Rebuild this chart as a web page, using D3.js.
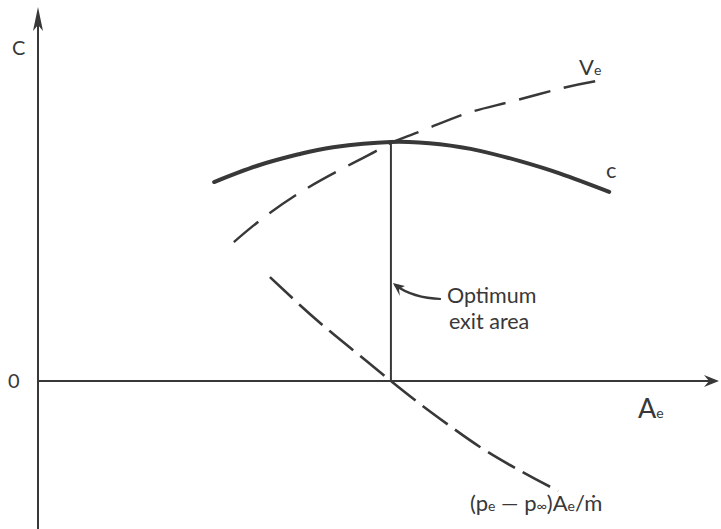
<!DOCTYPE html>
<html>
<head>
<meta charset="utf-8">
<script src="https://cdn.jsdelivr.net/npm/d3@7"></script>
<style>
  html, body { margin: 0; padding: 0; background: #fff; }
  svg { display: block; }
  text { font-family: Lato, "Open Sans", sans-serif; fill: #383838; }
</style>
</head>
<body>
<svg id="chart" width="721" height="529"></svg>
<script>
// Thrust coefficient c, exit velocity Ve and pressure-thrust term vs. exit area Ae
const axisX = [0, 10];          // Ae extent of the horizontal axis
const axisY = [-62, 155];       // extent of the vertical axis
const optimumAe = 5.19;         // exit area where pe = p∞

const cAe    = [2.59, 3.26, 3.85, 4.34, 5.19, 5.91, 6.50, 7.09, 7.68, 8.40];
const cVal   = [82.9, 90.0, 94.6, 97.4, 99.6, 98.6, 95.9, 91.6, 86.4, 78.8];

const veAe   = [2.88, 3.31, 3.84, 4.41, 4.97, 5.19, 5.71, 6.32, 6.94, 7.72, 8.38];
const veVal  = [57.9, 67.9, 78.3, 87.5, 95.8, 99.2, 105.0, 111.7, 116.3, 122.1, 125.8];

const prAe   = [3.41, 3.85, 4.29, 4.74, 5.19, 5.62, 6.06, 6.50, 6.94, 7.31, 7.65];
const prVal  = [43.3, 31.7, 20.8, 10.4, 0, -9.6, -18.8, -27.5, -35.0, -40.8, -45.8];

const ink = "#383838";
const svg = d3.select("#chart");

const x = d3.scaleLinear().domain([0, 10]).range([38, 718]);
const y = d3.scaleLinear().domain([0, 100]).range([381, 141]);

const line = d3.line().x(d => x(d[0])).y(d => y(d[1])).curve(d3.curveNatural);
const zip = (a, b) => a.map((v, i) => [v, b[i]]);

// axes
svg.append("line").attr("x1", x(0)).attr("x2", x(0))
  .attr("y1", y(axisY[0])).attr("y2", y(axisY[1]) + 4)
  .attr("stroke", ink).attr("stroke-width", 2);
svg.append("line").attr("x1", x(axisX[0])).attr("x2", x(axisX[1]) - 4)
  .attr("y1", y(0)).attr("y2", y(0))
  .attr("stroke", ink).attr("stroke-width", 2);

// arrowheads
const ty = y(axisY[1]), tx = x(0);
svg.append("path")
  .attr("d", `M${tx},${ty - 2} L${tx - 5},${ty + 22} L${tx},${ty + 16} L${tx + 5},${ty + 22} Z`)
  .attr("fill", ink);
const rx = x(axisX[1]), ry = y(0);
svg.append("path")
  .attr("d", `M${rx + 1},${ry} L${rx - 14},${ry - 6} L${rx - 9},${ry} L${rx - 14},${ry + 6} Z`)
  .attr("fill", ink);

// optimum exit-area line
svg.append("line")
  .attr("x1", x(optimumAe)).attr("x2", x(optimumAe))
  .attr("y1", y(0)).attr("y2", y(99.6))
  .attr("stroke", ink).attr("stroke-width", 2);

// curves
svg.append("path").attr("d", line(zip(veAe, veVal)))
  .attr("fill", "none").attr("stroke", ink).attr("stroke-width", 2.4)
  .attr("stroke-dasharray", "32,14");
svg.append("path").attr("d", line(zip(prAe, prVal)))
  .attr("fill", "none").attr("stroke", ink).attr("stroke-width", 2.6)
  .attr("stroke-dasharray", "31,9");
svg.append("path").attr("d", line(zip(cAe, cVal)))
  .attr("fill", "none").attr("stroke", ink).attr("stroke-width", 4)
  .attr("stroke-linecap", "round");

// annotation arrow
const ox = x(optimumAe);
svg.append("path")
  .attr("d", `M${ox + 50},${299} Q${ox + 22},${298} ${ox + 4},${285}`)
  .attr("fill", "none").attr("stroke", ink).attr("stroke-width", 2.2);
svg.append("path")
  .attr("d", `M${ox + 2},${283} L${ox + 14},${286} L${ox + 8},${289} L${ox + 9},${296} Z`)
  .attr("fill", ink);

// labels
svg.append("text").attr("x", 12).attr("y", 55).attr("font-size", 20).text("C");
svg.append("text").attr("x", 8).attr("y", y(0) + 7).attr("font-size", 20).text("0");
svg.append("text").attr("x", 606).attr("y", 178).attr("font-size", 22).text("c");

const ve = svg.append("text").attr("x", 579).attr("y", 75).attr("font-size", 22);
ve.append("tspan").text("V");
ve.append("tspan").attr("font-size", 14).text("e");

const ae = svg.append("text").attr("x", 638).attr("y", 418).attr("font-size", 27);
ae.append("tspan").text("A");
ae.append("tspan").attr("font-size", 14).text("e");

svg.append("text").attr("x", ox + 56).attr("y", 303).attr("font-size", 21.5).text("Optimum");
svg.append("text").attr("x", ox + 58).attr("y", 329).attr("font-size", 21.5).text("exit area");

const pl = svg.append("text").attr("x", 470).attr("y", 511).attr("font-size", 22);
pl.append("tspan").text("(p");
pl.append("tspan").attr("font-size", 14).text("e");
pl.append("tspan").text(" \u2014 p");
pl.append("tspan").attr("font-size", 14).text("\u221e");
pl.append("tspan").text(")A");
pl.append("tspan").attr("font-size", 14).text("e");
pl.append("tspan").text("/m\u0307");
</script>
</body>
</html>
